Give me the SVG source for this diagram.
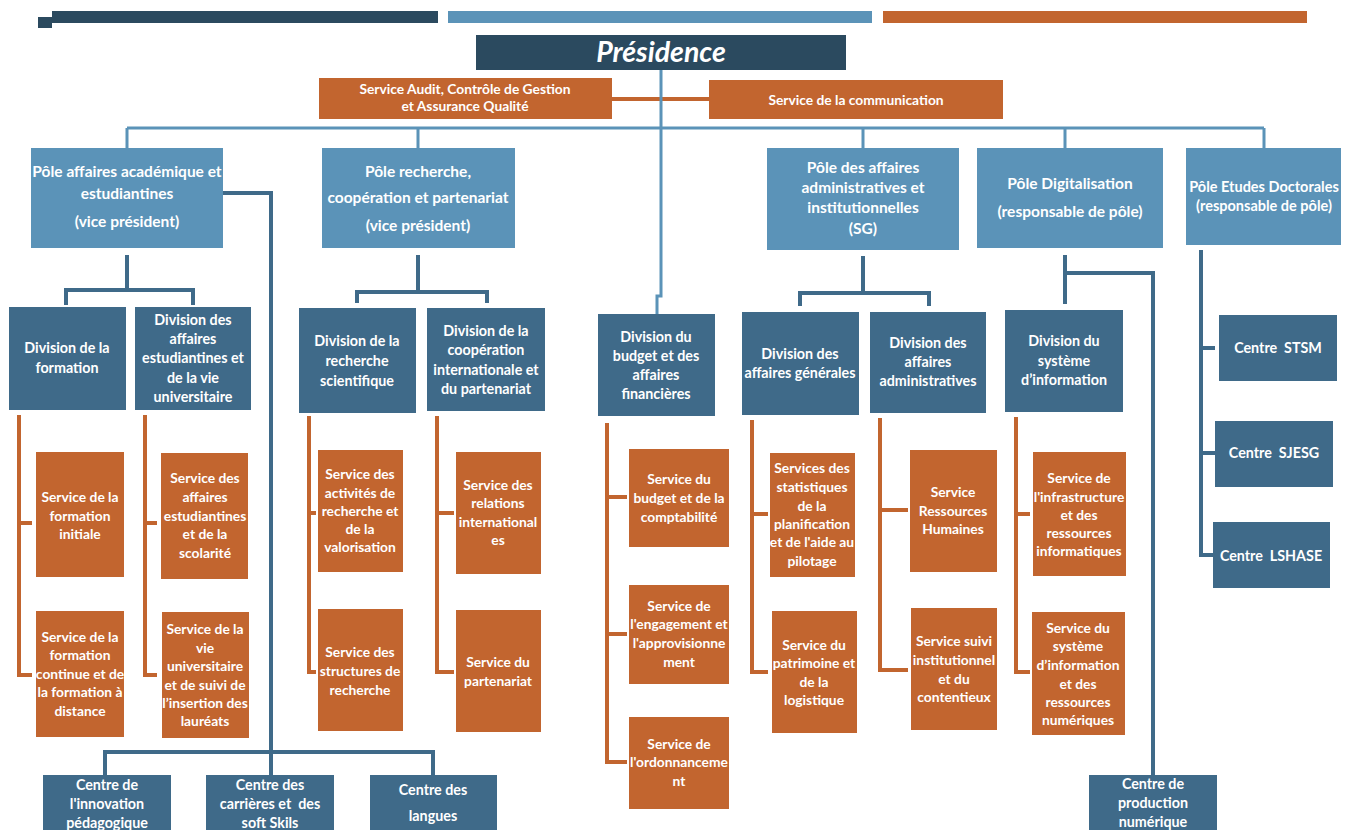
<svg xmlns="http://www.w3.org/2000/svg" width="1352" height="830" viewBox="0 0 1352 830">
<style>
.pres{fill:#2b4a5f}
.pole{fill:#5b93b8}
.div{fill:#3f6a89}
.svc{fill:#c2652f}
text{font-family:Lato,"Open Sans","Liberation Sans",sans-serif;fill:#fff;text-anchor:middle;font-weight:bold;font-size:13.8px}
.tp{font-size:15.5px}
.tpd{font-size:14.5px}
.td{font-size:14.3px}
.ts{font-size:13.5px}
.cb{stroke:#3f6a89;stroke-width:4;fill:none}
.cl{stroke:#5b93b8;stroke-width:3;fill:none}
.co{stroke:#c2652f;stroke-width:4;fill:none}
</style>
<rect width="1352" height="830" fill="#fff"/>
<g id="header">
<rect x="38" y="17" width="14" height="11" class="pres"/>
<rect x="52" y="11" width="386" height="12" class="pres"/>
<rect x="448" y="11" width="424" height="12" class="pole"/>
<rect x="883" y="11" width="424" height="12" class="svc"/>
</g>
<g id="connectors">
<path class="co" d="M612 99H709"/>
<path class="cl" d="M661 70V296H657V314"/>
<path class="cl" d="M127 128H1264"/>
<path class="cl" d="M127 128V148M418 128V148M863 128V148M1065 128V148M1264 128V148"/>
<path class="cb" d="M127 255V290M66 305V290H193V305"/>
<path class="cb" d="M223 193H271V752M105 775V752H433V775M271 752V775"/>
<path class="cb" d="M418 255V292M357 303V292H487V303"/>
<path class="cb" d="M863 256V293M800 306V293H929V306"/>
<path class="cb" d="M1065 255V304M1067 273H1153V775"/>
<path class="cb" d="M1201 250V555H1215M1201 348H1215M1201 453H1215"/>
<path class="co" d="M19 415V675H32M19 523H32"/>
<path class="co" d="M145 415V675H157M145 523H157"/>
<path class="co" d="M309 416V672H316M309 513H316"/>
<path class="co" d="M437 416V672H454M437 513H454"/>
<path class="co" d="M607 423V762H627M607 497H627M607 634H627"/>
<path class="co" d="M752 420V672H768M752 514H768"/>
<path class="co" d="M880 418V670H908M880 510H908"/>
<path class="co" d="M1016 417V672H1030M1016 514H1030"/>
</g>
<g id="presidence">
<rect x="476" y="35" width="370" height="35" class="pres"/>
<text x="661" y="62" style="font-size:28.5px;font-style:italic">Présidence</text>
</g>
<g id="audit">
<rect x="319" y="78" width="293" height="41" class="svc"/>
<text x="465" y="94"><tspan x="465">Service Audit, Contrôle de Gestion</tspan><tspan x="465" dy="17">et Assurance Qualité</tspan></text>
</g>
<g id="communication">
<rect x="709" y="80" width="294" height="39" class="svc"/>
<text x="856" y="105">Service de la communication</text>
</g>
<g id="pole-academique">
<rect x="31" y="148" width="192" height="100" class="pole"/>
<text class="tp" x="127" y="177"><tspan x="127">Pôle affaires académique et</tspan><tspan x="127" dy="22">estudiantines</tspan><tspan x="127" dy="28">(vice président)</tspan></text>
</g>
<g id="pole-recherche">
<rect x="322" y="148" width="193" height="100" class="pole"/>
<text class="tp" x="418" y="177"><tspan x="418">Pôle recherche,</tspan><tspan x="418" dy="26">coopération et partenariat</tspan><tspan x="418" dy="28">(vice président)</tspan></text>
</g>
<g id="pole-administratif">
<rect x="767" y="148" width="192" height="102" class="pole"/>
<text class="tp" x="863" y="173"><tspan x="863">Pôle des affaires</tspan><tspan x="863" dy="20">administratives et</tspan><tspan x="863" dy="20">institutionnelles</tspan><tspan x="863" dy="21">(SG)</tspan></text>
</g>
<g id="pole-digital">
<rect x="977" y="148" width="186" height="100" class="pole"/>
<text class="tp" x="1070" y="189"><tspan x="1070">Pôle Digitalisation</tspan><tspan x="1070" dy="28">(responsable de pôle)</tspan></text>
</g>
<g id="pole-doctorales">
<rect x="1186" y="148" width="155" height="97" class="pole"/>
<text class="tpd" x="1264" y="192"><tspan x="1264">Pôle Etudes Doctorales</tspan><tspan x="1264" dy="19">(responsable de pôle)</tspan></text>
</g>
<g id="div-formation">
<rect x="9" y="307" width="117" height="103" class="div"/>
<text class="td" x="67" y="353"><tspan x="67">Division de la</tspan><tspan x="67" dy="20">formation</tspan></text>
</g>
<g id="div-estudiantines">
<rect x="135" y="307" width="116" height="103" class="div"/>
<text class="td" x="193" y="325"><tspan x="193">Division des</tspan><tspan x="193" dy="19">affaires</tspan><tspan x="193" dy="19">estudiantines et</tspan><tspan x="193" dy="20">de la vie</tspan><tspan x="193" dy="19">universitaire</tspan></text>
</g>
<g id="div-recherche">
<rect x="299" y="308" width="117" height="105" class="div"/>
<text class="td" x="357" y="346"><tspan x="357">Division de la</tspan><tspan x="357" dy="20">recherche</tspan><tspan x="357" dy="20">scientifique</tspan></text>
</g>
<g id="div-cooperation">
<rect x="427" y="308" width="118" height="103" class="div"/>
<text class="td" x="486" y="336"><tspan x="486">Division de la</tspan><tspan x="486" dy="19">coopération</tspan><tspan x="486" dy="20">internationale et</tspan><tspan x="486" dy="19">du partenariat</tspan></text>
</g>
<g id="div-budget">
<rect x="598" y="314" width="117" height="102" class="div"/>
<text class="td" x="656" y="342"><tspan x="656">Division du</tspan><tspan x="656" dy="19">budget et des</tspan><tspan x="656" dy="19">affaires</tspan><tspan x="656" dy="19">financières</tspan></text>
</g>
<g id="div-generales">
<rect x="742" y="312" width="117" height="103" class="div"/>
<text class="td" x="800" y="359"><tspan x="800">Division des</tspan><tspan x="800" dy="19">affaires générales</tspan></text>
</g>
<g id="div-administratives">
<rect x="870" y="312" width="116" height="101" class="div"/>
<text class="td" x="928" y="348"><tspan x="928">Division des</tspan><tspan x="928" dy="19">affaires</tspan><tspan x="928" dy="19">administratives</tspan></text>
</g>
<g id="div-si">
<rect x="1005" y="310" width="118" height="102" class="div"/>
<text class="td" x="1064" y="346"><tspan x="1064">Division du</tspan><tspan x="1064" dy="20">système</tspan><tspan x="1064" dy="19">d’information</tspan></text>
</g>
<g id="svc-formation-initiale">
<rect x="36" y="452" width="88" height="125" class="svc"/>
<text x="80" y="502"><tspan x="80">Service de la</tspan><tspan x="80" dy="19">formation</tspan><tspan x="80" dy="18">initiale</tspan></text>
</g>
<g id="svc-formation-continue">
<rect x="36" y="611" width="88" height="126" class="svc"/>
<text x="80" y="642"><tspan x="80">Service de la</tspan><tspan x="80" dy="18">formation</tspan><tspan x="80" dy="19">continue et de</tspan><tspan x="80" dy="18">la formation à</tspan><tspan x="80" dy="19">distance</tspan></text>
</g>
<g id="svc-affaires-estudiantines">
<rect x="161" y="453" width="87" height="126" class="svc"/>
<text x="205" y="483"><tspan x="205">Service des</tspan><tspan x="205" dy="19">affaires</tspan><tspan x="205" dy="19">estudiantines</tspan><tspan x="205" dy="18">et de la</tspan><tspan x="205" dy="19">scolarité</tspan></text>
</g>
<g id="svc-vie-universitaire">
<rect x="162" y="612" width="87" height="126" class="svc"/>
<text x="205" y="634"><tspan x="205">Service de la</tspan><tspan x="205" dy="19">vie</tspan><tspan x="205" dy="18">universitaire</tspan><tspan x="205" dy="19">et de suivi de</tspan><tspan x="205" dy="18">l’insertion des</tspan><tspan x="205" dy="18">lauréats</tspan></text>
</g>
<g id="svc-activites-recherche">
<rect x="318" y="450" width="85" height="122" class="svc"/>
<text x="360" y="479"><tspan x="360">Service des</tspan><tspan x="360" dy="19">activités de</tspan><tspan x="360" dy="18">recherche et</tspan><tspan x="360" dy="18">de la</tspan><tspan x="360" dy="18">valorisation</tspan></text>
</g>
<g id="svc-structures-recherche">
<rect x="318" y="609" width="85" height="122" class="svc"/>
<text x="360" y="657"><tspan x="360">Service des</tspan><tspan x="360" dy="19">structures de</tspan><tspan x="360" dy="19">recherche</tspan></text>
</g>
<g id="svc-relations-internationales">
<rect x="456" y="452" width="85" height="122" class="svc"/>
<text x="498" y="490"><tspan x="498">Service des</tspan><tspan x="498" dy="18">relations</tspan><tspan x="498" dy="19">international</tspan><tspan x="498" dy="18">es</tspan></text>
</g>
<g id="svc-partenariat">
<rect x="456" y="610" width="85" height="122" class="svc"/>
<text x="498" y="667"><tspan x="498">Service du</tspan><tspan x="498" dy="19">partenariat</tspan></text>
</g>
<g id="svc-budget">
<rect x="629" y="449" width="100" height="98" class="svc"/>
<text x="679" y="484"><tspan x="679">Service du</tspan><tspan x="679" dy="19">budget et de la</tspan><tspan x="679" dy="19">comptabilité</tspan></text>
</g>
<g id="svc-engagement">
<rect x="629" y="585" width="100" height="99" class="svc"/>
<text x="679" y="611"><tspan x="679">Service de</tspan><tspan x="679" dy="18">l'engagement et</tspan><tspan x="679" dy="19">l'approvisionne</tspan><tspan x="679" dy="19">ment</tspan></text>
</g>
<g id="svc-ordonnancement">
<rect x="629" y="717" width="100" height="92" class="svc"/>
<text x="679" y="749"><tspan x="679">Service de</tspan><tspan x="679" dy="18">l'ordonnanceme</tspan><tspan x="679" dy="19">nt</tspan></text>
</g>
<g id="svc-statistiques">
<rect x="770" y="453" width="85" height="124" class="svc"/>
<text x="812" y="473"><tspan x="812">Services des</tspan><tspan x="812" dy="19">statistiques</tspan><tspan x="812" dy="19">de la</tspan><tspan x="812" dy="18">planification</tspan><tspan x="812" dy="18">et de l'aide au</tspan><tspan x="812" dy="19">pilotage</tspan></text>
</g>
<g id="svc-patrimoine">
<rect x="772" y="611" width="85" height="122" class="svc"/>
<text x="814" y="650"><tspan x="814">Service du</tspan><tspan x="814" dy="18">patrimoine et</tspan><tspan x="814" dy="19">de la</tspan><tspan x="814" dy="18">logistique</tspan></text>
</g>
<g id="svc-rh">
<rect x="910" y="450" width="87" height="122" class="svc"/>
<text x="953" y="497"><tspan x="953">Service</tspan><tspan x="953" dy="19">Ressources</tspan><tspan x="953" dy="18">Humaines</tspan></text>
</g>
<g id="svc-suivi">
<rect x="911" y="608" width="86" height="122" class="svc"/>
<text x="954" y="646"><tspan x="954">Service suivi</tspan><tspan x="954" dy="19">institutionnel</tspan><tspan x="954" dy="19">et du</tspan><tspan x="954" dy="18">contentieux</tspan></text>
</g>
<g id="svc-infrastructure">
<rect x="1033" y="452" width="93" height="124" class="svc"/>
<text x="1079" y="483"><tspan x="1079">Service de</tspan><tspan x="1079" dy="19">l'infrastructure</tspan><tspan x="1079" dy="18">et des</tspan><tspan x="1079" dy="18">ressources</tspan><tspan x="1079" dy="18">informatiques</tspan></text>
</g>
<g id="svc-systeme-information">
<rect x="1032" y="612" width="93" height="123" class="svc"/>
<text x="1078" y="633"><tspan x="1078">Service du</tspan><tspan x="1078" dy="18">système</tspan><tspan x="1078" dy="19">d’information</tspan><tspan x="1078" dy="19">et des</tspan><tspan x="1078" dy="18">ressources</tspan><tspan x="1078" dy="18">numériques</tspan></text>
</g>
<g id="centre-stsm">
<rect x="1219" y="315" width="118" height="66" class="div"/>
<text class="td" x="1278" y="353">Centre&#160; STSM</text>
</g>
<g id="centre-sjesg">
<rect x="1215" y="421" width="118" height="66" class="div"/>
<text class="td" x="1274" y="458">Centre&#160; SJESG</text>
</g>
<g id="centre-lshase">
<rect x="1213" y="522" width="117" height="66" class="div"/>
<text class="td" x="1271" y="561">Centre&#160; LSHASE</text>
</g>
<g id="centre-innovation">
<rect x="43" y="775" width="128" height="55" class="div"/>
<text class="td" x="107" y="790"><tspan x="107">Centre de</tspan><tspan x="107" dy="19">l'innovation</tspan><tspan x="107" dy="19">pédagogique</tspan></text>
</g>
<g id="centre-carrieres">
<rect x="206" y="775" width="128" height="55" class="div"/>
<text class="td" x="270" y="790"><tspan x="270">Centre des</tspan><tspan x="270" dy="19">carrières et&#160; des</tspan><tspan x="270" dy="19">soft Skils</tspan></text>
</g>
<g id="centre-langues">
<rect x="370" y="775" width="127" height="55" class="div"/>
<text class="td" x="433" y="795"><tspan x="433">Centre des</tspan><tspan x="433" dy="26">langues</tspan></text>
</g>
<g id="centre-production">
<rect x="1089" y="775" width="128" height="55" class="div"/>
<text class="td" x="1153" y="789"><tspan x="1153">Centre de</tspan><tspan x="1153" dy="19">production</tspan><tspan x="1153" dy="19">numérique</tspan></text>
</g>
</svg>
